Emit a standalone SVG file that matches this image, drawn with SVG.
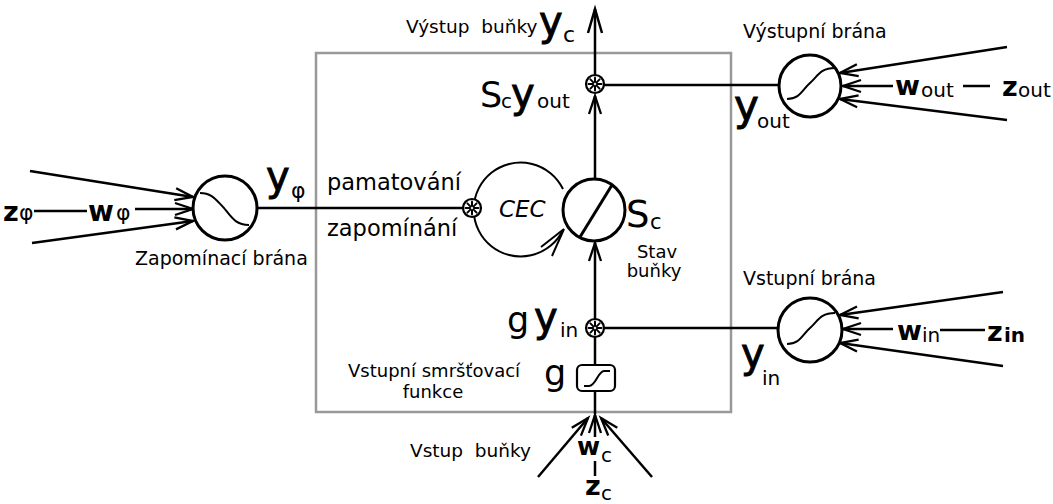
<svg xmlns="http://www.w3.org/2000/svg" xmlns:xlink="http://www.w3.org/1999/xlink" width="1053" height="504" viewBox="0 0 1053 504">
<style>
text{font-family:"DejaVu Sans",sans-serif;fill:#000}
.ln{stroke:#000;stroke-width:2.5;fill:none}
.gate{stroke:#000;stroke-width:3;fill:#fff}
.cv{stroke:#000;stroke-width:2;fill:none}
.arr{marker-end:url(#ah)}
.lbl{font-size:19px}
.b{font-weight:bold}
.big{stroke:#000;stroke-width:0.9}
</style>
<defs>
<marker id="ah" markerUnits="userSpaceOnUse" viewBox="-22 -9 24 18" refX="0" refY="0" markerWidth="24" markerHeight="18" orient="auto" overflow="visible">
<path d="M-18,-6 L0,0 L-18,6" fill="none" stroke="#000" stroke-width="2.3"/>
</marker>
<marker id="ahL" markerUnits="userSpaceOnUse" viewBox="-26 -9 28 18" refX="0" refY="0" markerWidth="28" markerHeight="18" orient="auto" overflow="visible">
<path d="M-24,-7 L0,0 L-24,7" fill="none" stroke="#000" stroke-width="2.5"/>
</marker>
<g id="mul">
<circle r="9" fill="#fff" stroke="#000" stroke-width="2.2"/>
<g stroke="#000" stroke-width="2" stroke-linecap="round">
<line x1="0" y1="-2" x2="0" y2="-6.5"/><line x1="0" y1="2" x2="0" y2="6.5"/>
<line x1="-2" y1="0" x2="-6.5" y2="0"/><line x1="2" y1="0" x2="6.5" y2="0"/>
<line x1="1.4" y1="1.4" x2="4.6" y2="4.6"/><line x1="-1.4" y1="-1.4" x2="-4.6" y2="-4.6"/>
<line x1="1.4" y1="-1.4" x2="4.6" y2="-4.6"/><line x1="-1.4" y1="1.4" x2="-4.6" y2="4.6"/>
</g>
</g>
</defs>

<rect id="cell" x="316" y="53" width="415" height="359" fill="none" stroke="#999" stroke-width="2.5"/>

<g id="connectors">
<line class="ln" x1="595" y1="75" x2="595" y2="9" marker-end="url(#ahL)"/>
<line class="ln arr" x1="595" y1="179" x2="595" y2="96"/>
<line class="ln arr" x1="595" y1="319" x2="595" y2="243"/>
<line class="ln" x1="595" y1="337" x2="595" y2="365"/>
<line class="ln" x1="595" y1="391" x2="595" y2="414"/>
<line class="ln arr" x1="595" y1="437" x2="595" y2="415"/>
<line class="ln arr" x1="538" y1="477" x2="588" y2="418"/>
<line class="ln arr" x1="652" y1="477" x2="601" y2="418"/>
<line class="ln" x1="595" y1="461" x2="595" y2="476"/>
<line class="ln" x1="604" y1="85" x2="779" y2="85"/>
<line class="ln" x1="604" y1="328" x2="778" y2="328"/>
<line class="ln" x1="257" y1="208" x2="463" y2="208"/>
<path class="cv" d="M563,189 A47,47 0 1 0 563,230"/>
<path class="cv" d="M541,247 L564,229 L552,256"/>
<line class="ln arr" x1="1007" y1="47" x2="840" y2="73"/>
<line class="ln arr" x1="893" y1="86" x2="843" y2="86"/>
<line class="ln arr" x1="1007" y1="120" x2="840" y2="99"/>
<line class="ln" x1="963" y1="86" x2="990" y2="86"/>
<line class="ln arr" x1="1003" y1="292" x2="840" y2="315"/>
<line class="ln arr" x1="893" y1="329" x2="843" y2="329"/>
<line class="ln arr" x1="1003" y1="366" x2="840" y2="343"/>
<line class="ln" x1="940" y1="330" x2="985" y2="330"/>
<line class="ln arr" x1="30" y1="171" x2="193" y2="197"/>
<line class="ln arr" x1="135" y1="209" x2="193" y2="209"/>
<line class="ln arr" x1="32" y1="243" x2="193" y2="221"/>
<line class="ln" x1="34" y1="211" x2="87" y2="211"/>
</g>

<g id="out-mul"><use xlink:href="#mul" x="595" y="84"/></g>
<g id="forget-mul"><use xlink:href="#mul" x="472" y="208"/></g>
<g id="in-mul"><use xlink:href="#mul" x="595" y="328"/></g>

<g id="output-gate">
<circle class="gate" cx="810" cy="86" r="31"/>
<path class="cv" d="M787,99 C800,99 802,90 810,83 C818,76 820,68 835,68"/>
<text class="lbl" x="743" y="38">Výstupní brána</text>
</g>
<g id="input-gate">
<circle class="gate" cx="810" cy="330" r="32"/>
<path class="cv" d="M787,344 C800,344 802,335 810,328 C818,321 820,313 835,313"/>
<text class="lbl" x="743" y="285">Vstupní brána</text>
</g>
<g id="forget-gate">
<circle class="gate" cx="225" cy="208" r="32"/>
<path class="cv" d="M200,193 C212,193 216,200 224,208 C232,218 236,225 249,225"/>
<text class="lbl" x="135" y="265" font-size="18.5">Zapomínací brána</text>
</g>
<g id="cell-state">
<circle class="gate" cx="594" cy="210" r="31"/>
<line x1="580" y1="237" x2="612" y2="185" stroke="#000" stroke-width="3"/>
</g>
<g id="squash">
<rect x="577" y="365" width="38" height="26" rx="5" fill="#fff" stroke="#000" stroke-width="2.2"/>
<path class="cv" d="M584,386 L589,386 C596,386 598,371 604,371 L610,371"/>
</g>

<g id="labels">
<text x="406" y="33" font-size="18.5">Výstup&#160; buňky</text>
<text class="big" x="539" y="35" font-size="40">y</text><text x="563" y="42" font-size="22">c</text>
<text x="480" y="107" font-size="35">S</text><text x="501" y="108" font-size="20">c</text>
<text class="big" x="511" y="107" font-size="40">y</text><text x="537" y="108" font-size="20">out</text>
<text class="big" x="734" y="120" font-size="42">y</text><text x="757" y="128" font-size="20">out</text>
<text class="b" x="895" y="95" font-size="27">w</text><text x="921" y="97" font-size="20">out</text>
<text class="b" x="1002" y="96" font-size="27">z</text><text x="1018" y="97" font-size="20">out</text>
<text class="b" x="3" y="221" font-size="27">z</text><text x="19" y="220" font-size="22">φ</text>
<text class="b" x="88" y="221" font-size="28">w</text><text x="116" y="220" font-size="22">φ</text>
<text class="big" x="266" y="190" font-size="40">y</text><text x="291" y="198" font-size="22">φ</text>
<text x="327" y="190" font-size="22.5">pamatování</text>
<text x="327" y="236" font-size="22.5">zapomínání</text>
<text x="499" y="217" font-size="23" font-style="italic">CEC</text>
<text x="626" y="227" font-size="37">S</text><text x="650" y="229" font-size="21">c</text>
<text x="657" y="258" font-size="18" text-anchor="middle">Stav</text>
<text x="654" y="277" font-size="18" text-anchor="middle">buňky</text>
<text x="507" y="332" font-size="35">g</text><text class="big" x="534" y="331" font-size="40">y</text><text x="560" y="337" font-size="20">in</text>
<text x="544" y="385" font-size="35">g</text>
<text x="348" y="377" font-size="18">Vstupní smršťovací</text>
<text x="433" y="398" font-size="18" text-anchor="middle">funkce</text>
<text x="410" y="457" font-size="18.5">Vstup&#160; buňky</text>
<text class="b" x="577" y="455" font-size="25">w</text><text x="601" y="462" font-size="20">c</text>
<text class="b" x="585" y="495" font-size="27">z</text><text x="601" y="500" font-size="20">c</text>
<text class="b" x="897" y="340" font-size="27">w</text><text x="922" y="342" font-size="20">in</text>
<text class="b" x="987" y="341" font-size="27">z</text><text class="b" x="1004" y="342" font-size="20">in</text>
<text class="big" x="741" y="367" font-size="40">y</text><text x="762" y="385" font-size="20">in</text>
</g>
</svg>
